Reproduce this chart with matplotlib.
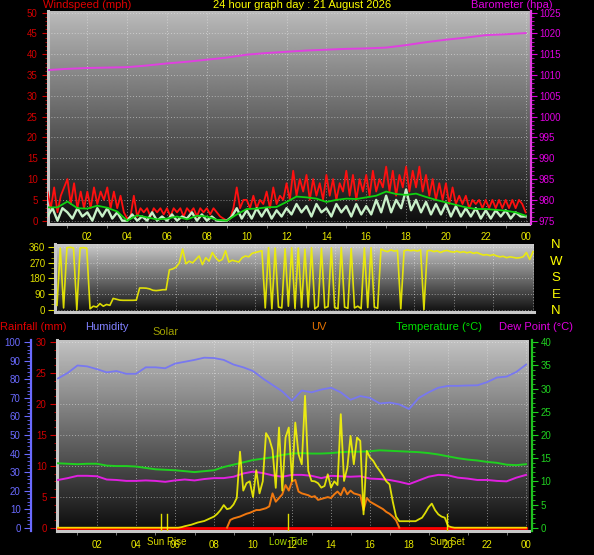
import matplotlib
matplotlib.use('Agg')
import numpy as np
import matplotlib.pyplot as plt
from matplotlib.ticker import MultipleLocator
from matplotlib import font_manager

# --- Fonts ---
names = {f.name for f in font_manager.fontManager.ttflist}
FONT = 'Liberation Sans' if 'Liberation Sans' in names else 'DejaVu Sans'
plt.rcParams['font.family'] = [FONT, 'DejaVu Sans']

# --- Data ---
title = '24 hour graph day : 21 August 2026'

# wind gust (mph), 10 minute samples 00:00 .. 24:00
wind_gust = [7, 3, 8, 2, 6, 8,   10, 4, 9, 3, 7, 3,   7, 3, 8, 4, 7, 5,
             8, 3, 7, 3, 6, 2,   0.5, 1, 6, 1, 3, 2,  3, 1, 3, 2, 3, 1.5,
             3, 1, 3, 2, 3, 1,   3, 2, 3, 1, 3, 2,    3, 1.5, 3, 2, 1, 0.5,
             0, 0.5, 3, 8, 3, 5, 5, 3, 6, 3, 5, 4,    7, 3, 8, 4, 6, 5,
             9, 5, 12, 6, 10, 7, 11, 5, 10, 6, 9, 5,  11, 6, 10, 5, 9, 7,
             12, 6, 11, 5, 10, 7, 11, 6, 12, 7, 10, 8, 13, 7, 12, 6, 11, 8,
             13, 7, 12, 8, 13, 7, 11, 6, 10, 5, 9, 5,  9, 4, 8, 4, 6, 4,
             6, 3, 5, 4, 5, 3,   5, 3, 5, 3, 5, 3,    5, 3, 5, 3, 5, 4,   2]
# windspeed (mph), 15 minute samples
wind_speed = [1, 3, 0, 3,  2, 0.5, 3, 1,  2, 0, 3, 1,  3, 0.5, 2, 0,
              0, 1.5, 0, 1,  0, 2, 0, 1,  0, 1.5, 0, 1,  0.5, 2, 0, 1.5,
              0, 1, 0, 0,  0, 1, 3, 0.5,  2.5, 0.5, 3, 1,  3, 0.5, 2.5, 1,
              3, 1.5, 4, 2,  3.5, 1, 4, 2,  3, 1, 4, 2,  3.5, 1, 4, 1.5,
              3.5, 1.5, 5, 2,  6, 2, 5, 3,  7.5, 2.5, 5, 2,  4.5, 1.5, 4, 1.5,
              4, 1, 3.5, 1,  3, 1, 3, 0.5,  2.5, 0.5, 2.5, 1,  2.5, 0.5, 2, 1,  1]
# average windspeed, 30 minute samples
wind_avg = [3.2, 3.2, 4.6, 3.0, 2.9, 3.6, 3.1, 2.2, 0.0, 1.3, 0.8, 0.3,
            0.5, 1.0, 0.3, 1.2, 1.0, 0.2, 0.0, 1.5, 2.8, 2.9, 3.2, 3.3,
            4.5, 5.8, 5.6, 5.3, 4.5, 5.0, 5.3, 5.2, 5.6, 6.0, 7.0, 6.4,
            6.2, 6.5, 5.7, 5.0, 4.4, 3.8, 3.2, 2.8, 2.8, 2.6, 2.4, 2.0, 1.2]
# barometer (hPa), hourly
barometer = [1011.2, 1011.5, 1011.7, 1011.8, 1011.9, 1012.3, 1012.8, 1013.2,
             1013.7, 1014.2, 1014.9, 1015.3, 1015.6, 1015.9, 1016.1, 1016.3,
             1016.4, 1016.6, 1017.2, 1017.9, 1018.5, 1019.0, 1019.6, 1019.8, 1020.1]

# wind direction (deg), 10 minute samples
wind_dir = [25, 355, 10, 358, 360, 356,   0, 356, 358, 355, 5, 20,
            15, 35, 20, 30, 25, 65,       60, 55, 54, 54, 54, 54,
            55, 125, 125, 124, 120, 112,  110, 112, 115, 115, 230, 235,
            245, 270, 350, 265, 280, 270, 290, 310, 260, 300, 280, 330,
            300, 280, 290, 340, 275, 285, 280, 275, 300, 310, 305, 325,
            330, 335, 340, 10, 358, 5,    355, 15, 10, 352, 20, 358,
            8, 356, 12, 350, 15, 358,     5, 20, 355, 10, 18, 357,
            12, 6, 359, 15, 8, 354,       10, 20, 6, 356, 12, 358,
            15, 8, 350, 340, 335, 345,    338, 342, 5, 340, 345, 340,
            343, 338, 345, 0, 340, 342,   335, 340, 330, 338, 342, 335,
            332, 338, 330, 335, 328, 333, 325, 330, 322, 315, 318, 312,
            318, 310, 305, 308, 300, 305, 302, 298, 300, 305, 330, 290, 335]
dir_ticks = [0, 90, 180, 270, 360]
compass = ['N', 'W', 'S', 'E', 'N']

# bottom panel, 30 minute samples
humidity = [80.5, 83.5, 87.5, 87.0, 85.5, 83.8, 84.5, 83.0, 83.0, 86.5, 86.5, 86.0,
            88.5, 89.5, 90.5, 91.7, 91.5, 90.5, 88.0, 86.5, 84.5, 80.5, 77.0, 73.5,
            68.5, 74.0, 73.0, 74.5, 75.5, 73.0, 69.0, 71.0, 70.0, 67.0, 67.5, 66.5,
            64.0, 70.0, 73.0, 75.5, 76.5, 76.5, 76.7, 76.8, 78.5, 81.0, 81.5, 84.0, 88.0]
temperature = [13.9, 13.8, 13.7, 13.8, 13.8, 13.4, 13.3, 13.3, 13.2, 12.9, 12.6, 12.5,
               12.4, 12.2, 12.0, 12.2, 12.4, 13.1, 13.6, 14.1, 14.6, 14.9, 15.2, 15.7,
               16.0, 16.1, 16.0, 16.0, 16.1, 16.3, 16.4, 16.4, 16.5, 16.7, 16.6, 16.5,
               16.4, 16.3, 16.1, 15.8, 15.4, 15.0, 14.7, 14.5, 14.2, 14.0, 13.6, 13.5, 13.7]
dew_point = [10.3, 10.7, 11.2, 11.2, 11.1, 10.4, 10.3, 10.1, 10.1, 10.2, 10.1, 9.9,
             10.2, 10.4, 10.2, 10.5, 10.7, 10.7, 11.0, 11.7, 12.1, 11.8, 11.3, 11.0,
             11.4, 11.4, 11.2, 10.7, 11.2, 11.1, 11.0, 11.1, 10.6, 10.5, 10.3, 9.9,
             9.4, 10.2, 11.0, 11.4, 11.3, 10.8, 10.6, 10.3, 10.3, 10.1, 10.0, 10.8, 11.4]
rainfall = [0.0] * 25  # hourly

# solar (W/m2), 10 minute samples
solar = ([0] * 36 +
         [0, 0, 3, 8, 12, 16,  22, 28, 32, 36, 44, 52,
          60, 75, 95, 122, 100, 105,  125, 160, 410, 200, 240, 250,
          165, 310, 185, 250, 510, 480,  420, 215, 540, 200, 486, 540,
          252, 567, 396, 342, 711, 306,  252, 250, 240, 216, 225, 288,
          216, 250, 230, 612, 252, 324,  495, 342, 486, 468, 72, 414,
          378, 360, 330, 306, 280, 250,  234, 140, 60, 35, 35, 35,
          35, 35, 35, 45, 54, 80,  110, 130, 95, 72, 60, 54,
          9, 3, 0, 0, 0, 0] +
         [0] * 19)
# UV index, 10 minute samples (nan = not logged)
nan = np.nan
uv = ([nan] * 52 +
      [0, 0.83,  1.0, 1.1, 1.2, 1.35, 1.5, 1.6,  1.75, 1.9, 1.9, 2.0, 2.1, 2.3,
       3.7, 2.8, 3.2, 3.6, 4.6, 4.0,  5.0, 5.15, 3.9, 3.7, 3.6, 3.5,
       3.3, 3.4, 3.0, 3.1, 3.2, 3.3,  3.2, 3.6, 3.9, 3.5, 4.3, 3.6,
       4.0, 3.7, 3.6, 3.5, 1.9, 3.2,  2.8, 2.6, 2.4, 2.2, 2.0, 1.7,
       1.5, 1.2, 0.8, 0] +
      [nan] * 39)

# sunrise / low tide / sunset
event_hours = [5.28, 5.57, 11.8, 19.97]
event_labels = [('Sun Rise', 5.57, '#d8d800'), ('Low Tide', 11.8, '#a8d800'),
                ('Sun Set', 19.97, '#d8d800')]

hour_ticks = list(range(2, 25, 2))
hour_labels = [f'{h % 24:02d}' for h in hour_ticks]
odd_hours = list(range(1, 24, 2))

t10 = np.linspace(0, 24, len(wind_dir))
t15 = np.linspace(0, 24, len(wind_speed))
t30 = np.linspace(0, 24, len(wind_avg))
t60 = np.linspace(0, 24, len(barometer))

# --- Helpers ---
W, H = 594, 555


def box(left, top, right, bottom):
    return [left / W, 1 - bottom / H, (right - left) / W, (bottom - top) / H]


def shade(ax, light, dark):
    x0, x1 = ax.get_xlim()
    y0, y1 = ax.get_ylim()
    g = np.linspace(light, dark, 256)[:, None]
    ax.imshow(g, cmap='gray', vmin=0, vmax=1, extent=(x0, x1, y0, y1),
              aspect='auto', zorder=0, interpolation='bilinear')
    ax.set_xlim(x0, x1)
    ax.set_ylim(y0, y1)


def frame(ax):
    ax.set_facecolor('black')
    for s in ('top', 'right'):
        ax.spines[s].set_visible(False)
    for s in ('left', 'bottom'):
        ax.spines[s].set_color('#c8c8c8')
        ax.spines[s].set_linewidth(2.2)
    ax.grid(True, which='major', color='#f0f0f0', ls=(0, (1, 2)), lw=0.7, alpha=0.5)


def side_axis(ax, side, color, offset_px):
    for s in ('left', 'right', 'top', 'bottom'):
        ax.spines[s].set_visible(s == side)
    ax.spines[side].set_position(('outward', offset_px * 0.72))
    ax.spines[side].set_color(color)
    ax.spines[side].set_linewidth(1.6)
    ax.yaxis.set_ticks_position(side)
    ax.grid(False)


fig = plt.figure(figsize=(5.94, 5.55), dpi=100, facecolor='black')

# --- Top: windspeed and barometer ---
ax1 = fig.add_axes(box(47.5, 11, 529, 224))
ax1.set_xlim(0, 24.17)
ax1.set_ylim(-0.8, 50.4)
shade(ax1, 0.73, 0.05)
frame(ax1)
ax1.plot(t10, wind_gust, color='#ff1010', lw=1.3, zorder=3)
ax1.plot(t15, wind_speed, color='#c8f0c8', lw=1.7, zorder=4)
ax1.plot(t30, wind_avg, color='#10d010', lw=1.3, zorder=5)
ax1.yaxis.set_major_locator(MultipleLocator(5))
ax1.yaxis.set_minor_locator(MultipleLocator(1))
ax1.tick_params(axis='y', which='major', colors='#d00000', length=4, pad=3, labelsize=7)
ax1.tick_params(axis='y', which='minor', colors='#d00000', length=2)
ax1.set_xticks(hour_ticks, hour_labels)
ax1.set_xticks(odd_hours, minor=True)
ax1.tick_params(axis='x', which='major', colors='#e8e800', length=0, pad=6, labelsize=7)
ax1.tick_params(axis='x', which='minor', color='#909090', length=3)

ax1b = ax1.twinx()
ax1b.set_ylim(974.2, 1025.4)
side_axis(ax1b, 'right', '#e040e0', 1.5)
ax1b.plot(t60, barometer, color='#e040e0', lw=1.4)
ax1b.yaxis.set_major_locator(MultipleLocator(5))
ax1b.yaxis.set_minor_locator(MultipleLocator(1))
ax1b.tick_params(axis='y', which='major', colors='#e000e0', length=4, pad=2, labelsize=7)
ax1b.tick_params(axis='y', which='minor', colors='#e000e0', length=2)

# --- Middle: wind direction ---
ax2 = fig.add_axes(box(55, 244, 534, 312))
ax2.set_xlim(-0.1, 24.05)
ax2.set_ylim(-13.5, 379)
shade(ax2, 0.80, 0.06)
frame(ax2)
ax2.plot(t10, wind_dir, color='#f0f000', lw=1.2, alpha=0.9, zorder=3)
ax2.set_yticks(dir_ticks)
ax2.yaxis.set_minor_locator(MultipleLocator(30))
ax2.tick_params(axis='y', which='major', colors='#e0e000', length=5, pad=2, labelsize=7)
ax2.tick_params(axis='y', which='minor', colors='#b0b000', length=3)
ax2.set_xticks(hour_ticks)
ax2.tick_params(axis='x', length=0, labelbottom=False)

for i, letter in enumerate(compass):
    fig.text(556 / W, 1 - (245 + i * 16.6) / H, letter, color='#ffff00',
             fontsize=9.5, ha='center', va='center')

# --- Bottom: rain, humidity, solar, uv, temperature, dew point ---
ax3 = fig.add_axes(box(57, 340, 529, 531))
ax3.set_xlim(-0.05, 24.15)
ax3.set_ylim(-0.53, 30.37)
shade(ax3, 0.76, 0.05)
frame(ax3)
ax3.plot(t60, rainfall, color='#ff0000', lw=2, zorder=3)
ax3.yaxis.set_major_locator(MultipleLocator(5))
ax3.yaxis.set_minor_locator(MultipleLocator(1.25))
ax3.tick_params(axis='y', which='major', colors='#d00000', length=5, pad=2.5, labelsize=7)
ax3.tick_params(axis='y', which='minor', colors='#d00000', length=2.5)
ax3.set_xticks(hour_ticks, hour_labels)
ax3.set_xticks(odd_hours, minor=True)
ax3.tick_params(axis='x', which='major', colors='#e8e800', length=0, pad=6.5, labelsize=7)
ax3.tick_params(axis='x', which='minor', color='#909090', length=3)
for text, h, col in event_labels:
    ax3.text(h, -0.055, text, color=col, fontsize=7, ha='center', va='center',
             transform=ax3.get_xaxis_transform(), clip_on=False)
for h in event_hours:
    ax3.plot([h, h], [0.0, 0.09], color='#e0e000', lw=1,
             transform=ax3.get_xaxis_transform(), zorder=6)

ax3h = ax3.twinx()
ax3h.set_ylim(-1.78, 101.24)
side_axis(ax3h, 'left', '#6a6aff', 26)
ax3h.plot(t30, humidity, color='#7878f0', lw=1.3)
ax3h.yaxis.set_major_locator(MultipleLocator(10))
ax3h.yaxis.set_minor_locator(MultipleLocator(2))
ax3h.tick_params(axis='y', which='major', colors='#6a6aff', length=5, pad=2.5, labelsize=7)
ax3h.tick_params(axis='y', which='minor', colors='#6a6aff', length=3)

ax3t = ax3.twinx()
ax3t.set_ylim(-0.71, 40.5)
side_axis(ax3t, 'right', '#20c020', 3)
ax3t.plot(t30, temperature, color='#20d020', lw=1.4)
ax3t.plot(t30, dew_point, color='#e020e0', lw=1.4)
ax3t.yaxis.set_major_locator(MultipleLocator(5))
ax3t.yaxis.set_minor_locator(MultipleLocator(1))
ax3t.tick_params(axis='y', which='major', colors='#20d020', length=4, pad=2, labelsize=7)
ax3t.tick_params(axis='y', which='minor', colors='#20d020', length=2)

ax3u = ax3.twinx()
ax3u.set_ylim(-0.36, 20.25)
ax3u.set_axis_off()
ax3u.plot(t10, uv, color='#f07810', lw=1.4)

ax3s = ax3.twinx()
ax3s.set_ylim(-17.8, 1012)
ax3s.set_axis_off()
ax3s.plot(t10, solar, color='#ffff00', lw=1.3, alpha=0.85)

# --- Header texts ---
def label(x, y, text, color, ha='left'):
    fig.text(x / W, 1 - y / H, text, color=color, fontsize=8, ha=ha, va='center')

label(43, 5, 'Windspeed (mph)', '#e00000')
label(302, 5, title, '#ffff00', ha='center')
label(471, 5, 'Barometer (hpa)', '#e000e0')
label(0, 327, 'Rainfall (mm)', '#e00000')
label(85, 327, 'Humidity', '#8080ff')
label(152, 332, 'Solar', '#a0a000')
label(311, 327, 'UV', '#e07000')
label(396, 327, 'Temperature (°C)', '#00e000')
label(499, 327, 'Dew Point (°C)', '#e000e0')

fig.savefig('out.png', dpi=100, facecolor='black')
plt.close(fig)
